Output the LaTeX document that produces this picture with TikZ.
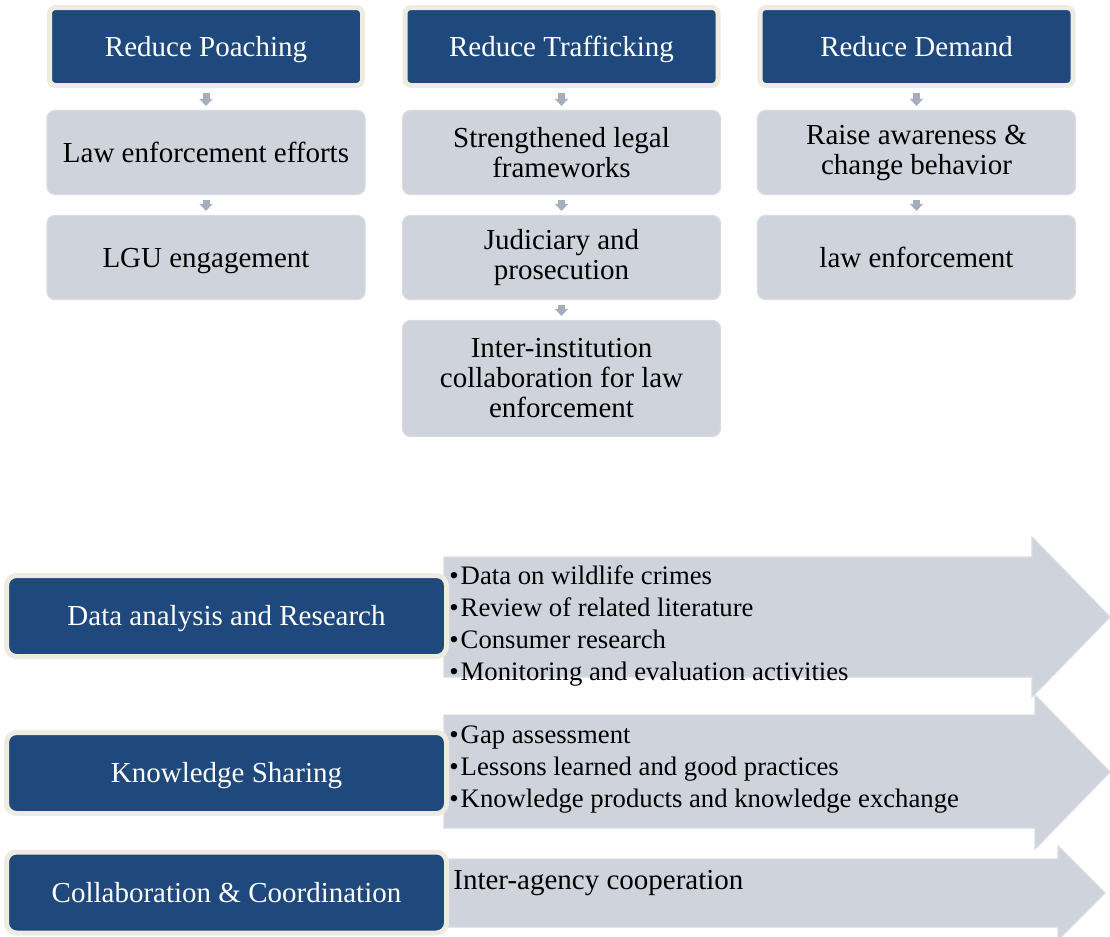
\documentclass[tikz,border=0pt]{standalone}
\usepackage{fontspec}
\setmainfont{Liberation Serif}
\usepackage{tikz}
\usetikzlibrary{positioning,arrows.meta}

\definecolor{goalblue}{HTML}{1F497D}
\definecolor{goalrim}{HTML}{EEECE1}
\definecolor{boxgray}{HTML}{CFD3DC}
\definecolor{boxrim}{HTML}{D8DBE2}
\definecolor{tipgray}{HTML}{A6ADBD}

\begin{document}
\begin{tikzpicture}[x=0.5pt, y=-0.5pt, node distance=9.9pt]
    \tikzstyle{goal} = [draw=goalrim, fill=goalblue, line width=2.5pt, rectangle, rounded corners=3pt, minimum width=156.5pt, minimum height=39pt, text=white, font=\fontsize{14.5}{15}\selectfont, text height=11.6pt, text depth=2.1pt, text centered]
    \tikzstyle{action} = [draw=boxrim, fill=boxgray, line width=0.6pt, rectangle, rounded corners=4pt, minimum width=159pt, minimum height=42pt, align=center, font=\fontsize{14.5}{15}\selectfont]
    \tikzstyle{oneline} = [action, text height=11.6pt, text depth=2.1pt]
    \tikzstyle{flow} = [draw=tipgray, line width=3.5pt, -{Triangle[width=6.5pt,length=3.5pt]}, shorten <=2.5pt, shorten >=2pt]
    \tikzstyle{pillar} = [goal, rounded corners=5pt, minimum width=220pt, minimum height=40.5pt]
    \tikzstyle{band} = [draw=boxrim, fill=boxgray, line width=0.6pt]
    \tikzstyle{items} = [align=left, inner sep=0pt, font=\fontsize{13.35}{16}\selectfont]
    \useasboundingbox (0,0) rectangle (1110,937);

    % top: three goals
    \node (poach) [goal] at (206,46.5) {Reduce Poaching};
    \node (traffic) [goal] at (561.5,46.5) {Reduce Trafficking};
    \node (demand) [goal] at (916.5,46.5) {Reduce Demand};

    \node (poachLaw) [oneline, below=10.95pt of poach] {Law enforcement efforts};
    \node (poachLGU) [oneline, below=of poachLaw] {LGU engagement};

    \node (trafLegal) [action, below=10.95pt of traffic] {Strengthened legal\\frameworks};
    \node (trafJudic) [action, below=of trafLegal] {Judiciary and\\prosecution};
    \node (trafInter) [action, below=of trafJudic, minimum height=58pt] {Inter-institution\\collaboration for law\\enforcement};

    \node (demAware) [action, below=10.95pt of demand] {Raise awareness \&\\change behavior};
    \node (demLaw) [oneline, below=of demAware] {law enforcement};

    \draw [flow] (poach) -- (poachLaw);
    \draw [flow] (poachLaw) -- (poachLGU);
    \draw [flow] (traffic) -- (trafLegal);
    \draw [flow] (trafLegal) -- (trafJudic);
    \draw [flow] (trafJudic) -- (trafInter);
    \draw [flow] (demand) -- (demAware);
    \draw [flow] (demAware) -- (demLaw);

    % bottom: big arrows
    \filldraw [band] (444,557) -- (1032,557) -- (1032,537) -- (1110,617) -- (1032,697) -- (1032,677) -- (444,677) -- cycle;
    \filldraw [band] (444,715) -- (1035,715) -- (1035,695) -- (1110,772) -- (1035,849) -- (1035,828) -- (444,828) -- cycle;
    \filldraw [band] (444,859) -- (1058,859) -- (1058,846) -- (1105,893) -- (1058,940) -- (1058,927) -- (444,927) -- cycle;

    \node (dataR) [pillar] at (226.5,616) {Data analysis and Research};
    \node (know) [pillar] at (226.5,773) {Knowledge Sharing};
    \node (collab) [pillar] at (226.5,892.5) {Collaboration \& Coordination};

    \node (dataList) [items, right=0pt of dataR, yshift=-5pt] {\textbullet\hspace{1pt}Data on wildlife crimes\\\textbullet\hspace{1pt}Review of related literature\\\textbullet\hspace{1pt}Consumer research\\\textbullet\hspace{1pt}Monitoring and evaluation activities};
    \node (knowList) [items, right=0pt of know, yshift=1.5pt] {\textbullet\hspace{1pt}Gap assessment\\\textbullet\hspace{1pt}Lessons learned and good practices\\\textbullet\hspace{1pt}Knowledge products and knowledge exchange};
    \node (collabList) [items, right=2pt of collab, yshift=4.5pt, font=\fontsize{14.5}{15}\selectfont] {Inter-agency cooperation};
\end{tikzpicture}
\end{document}
